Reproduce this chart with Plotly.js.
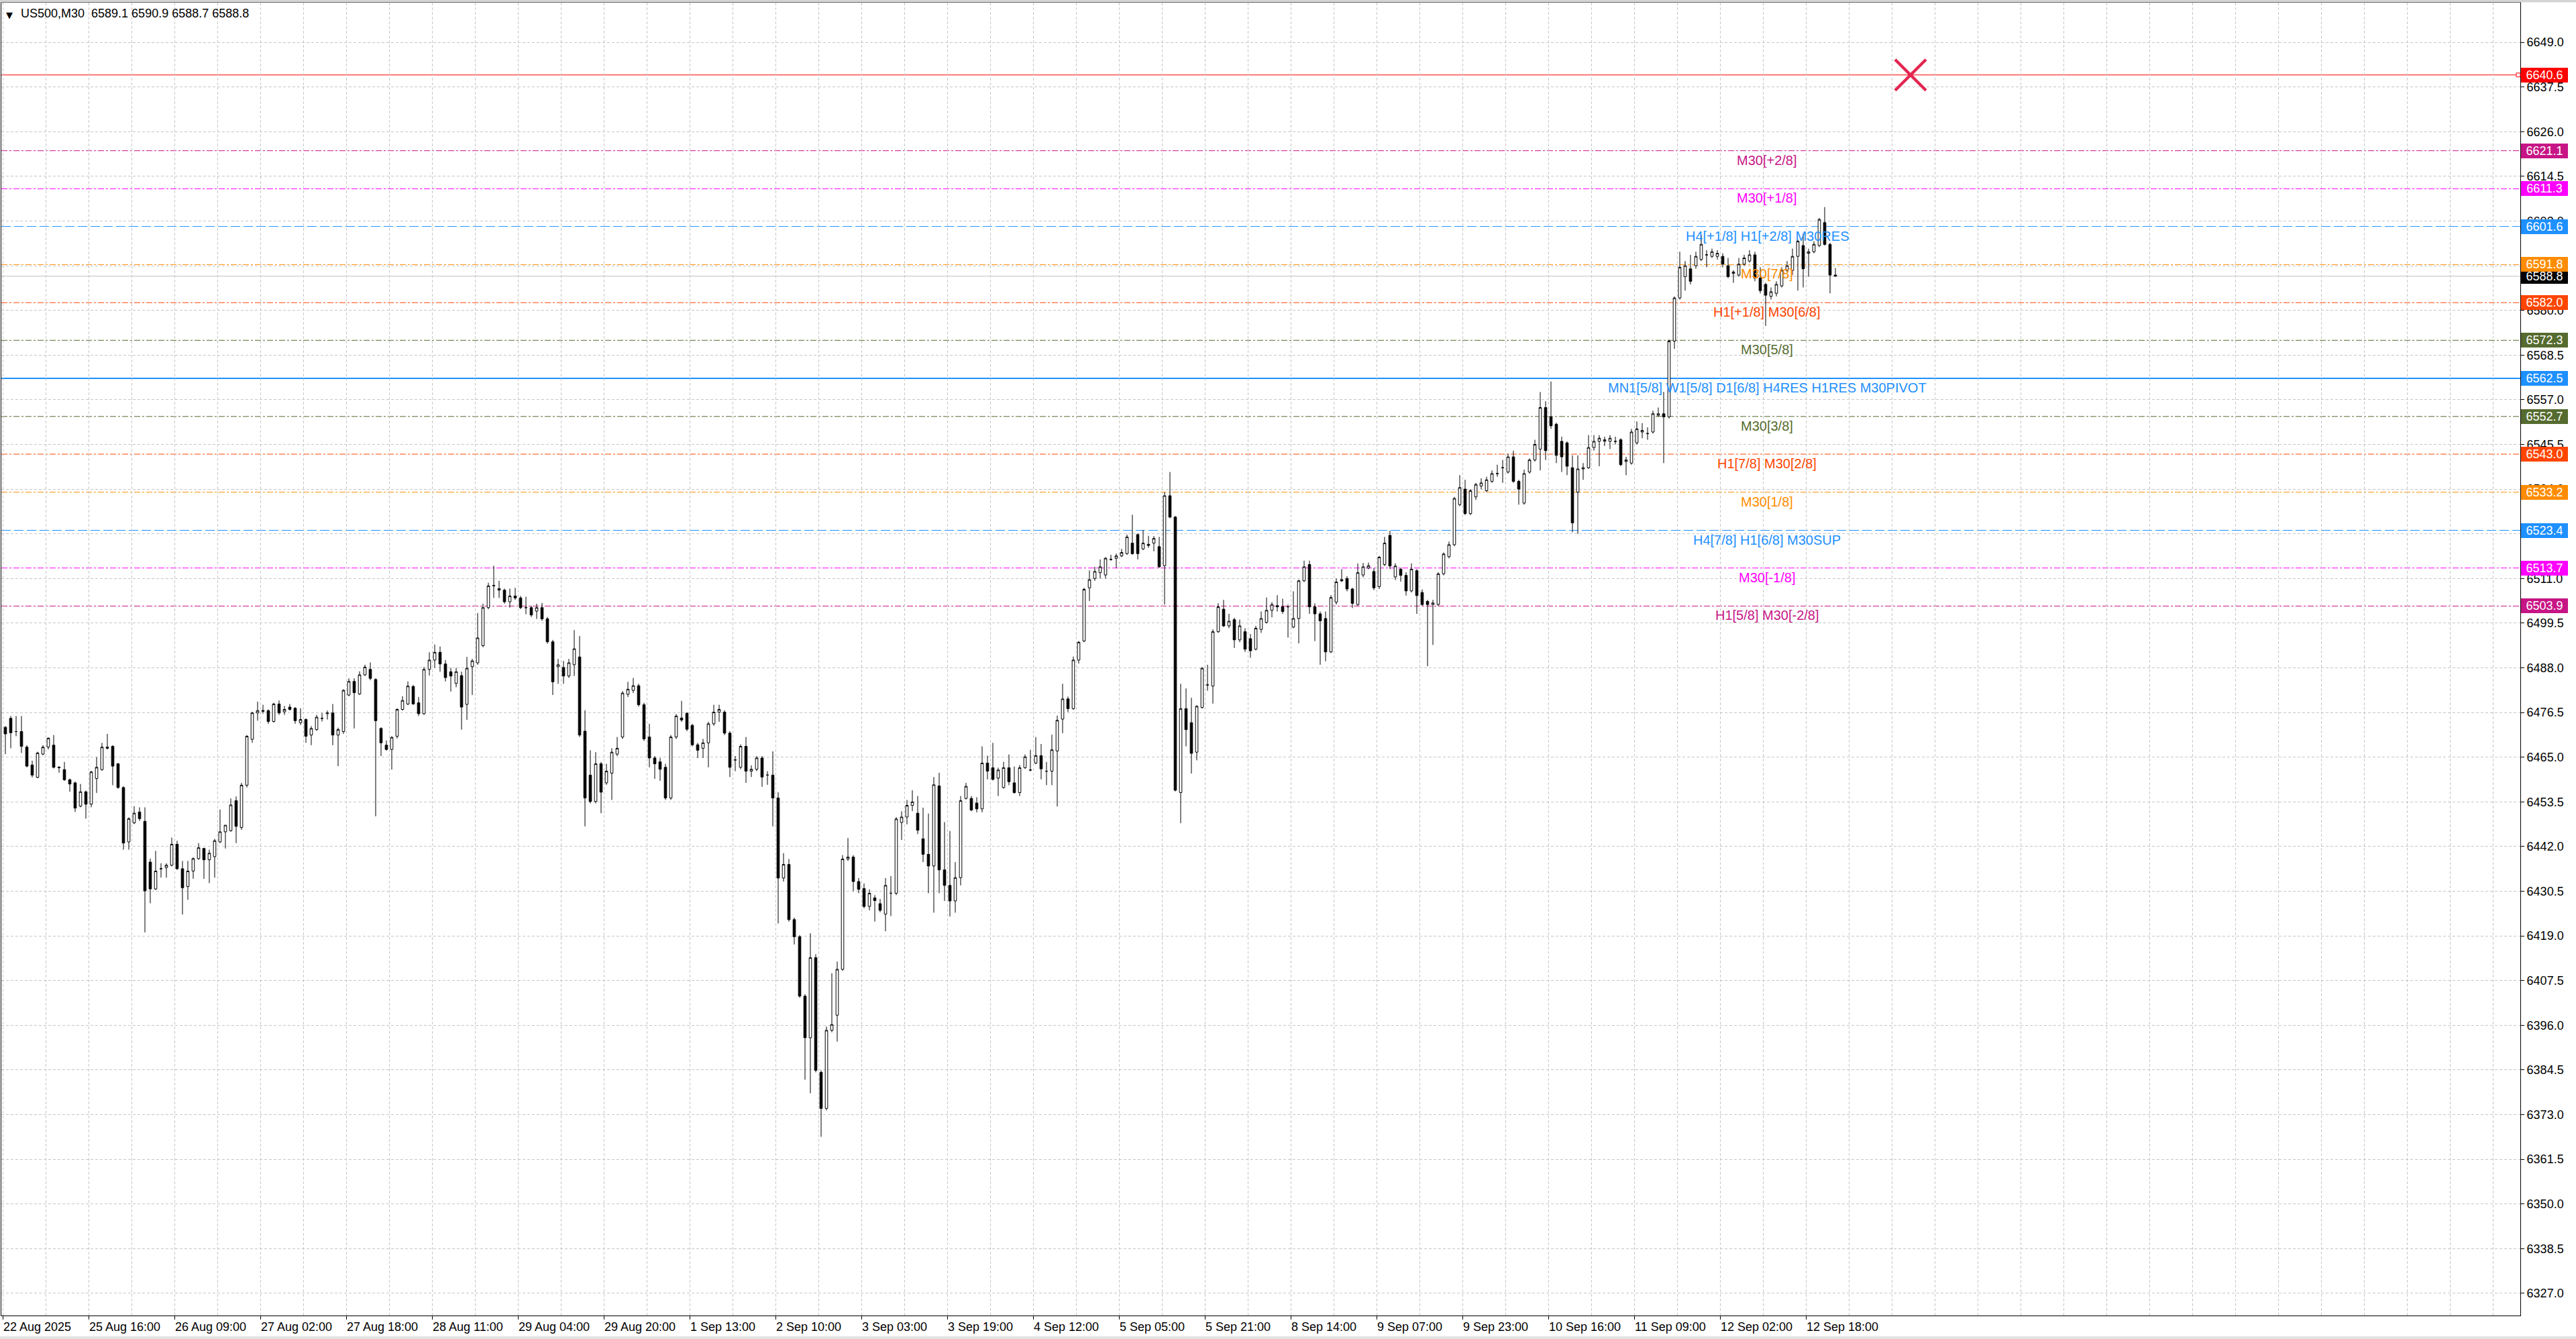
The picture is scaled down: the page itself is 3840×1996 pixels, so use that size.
<!DOCTYPE html>
<html><head><meta charset="utf-8">
<script src="https://cdn.plot.ly/plotly-3.0.1.min.js"></script>
<style>html,body{margin:0;padding:0;background:#fff;}#chart{width:3840px;height:1996px;}</style>
</head><body><div id="chart"></div>
<script>
// ---------- DATA ----------
const SYMBOL = "US500,M30";
const LAST_BAR = [6589.1, 6590.9, 6588.7, 6588.8];

const OPEN = [
6472.7,6475.0,6471.6,6471.6,6467.6,6463.0,6459.8,6465.8,6467.6,6468.1,
6462.4,6461.8,6459.2,6458.4,6452.4,6456.1,6452.9,6459.5,6461.8,6467.3,
6467.8,6463.3,6457.2,6443.2,6448.1,6450.9,6448.5,6438.0,6431.1,6436.3,
6436.6,6437.2,6442.6,6436.3,6431.7,6435.7,6438.9,6441.5,6438.6,6439.4,
6443.2,6445.8,6446.1,6453.8,6446.9,6457.8,6469.6,6476.4,6476.8,6477.0,
6474.2,6478.7,6476.7,6477.9,6477.6,6473.9,6474.7,6470.7,6472.1,6475.0,
6476.2,6476.4,6470.7,6471.6,6481.0,6484.5,6481.3,6486.2,6487.6,6485.0,
6472.4,6468.1,6467.0,6470.4,6477.3,6478.7,6483.2,6479.0,6476.2,6487.6,
6490.0,6492.0,6489.0,6487.0,6484.0,6486.0,
6478.6,6488.3,6489.3,6493.7,6503.5,6509.1,6508.4,6508.0,6505.0,6506.5,
6506.0,6503.5,6503.5,6502.6,6503.5,6500.6,6494.7,6488.3,6488.1,6485.9,
6488.8,6490.8,6471.7,6460.4,6453.6,6463.3,6458.4,6460.9,6465.8,6470.2,
6481.2,6482.2,6483.4,6478.5,6470.2,6464.8,6463.8,6462.4,6454.5,6470.2,
6475.1,6476.3,6473.2,6468.2,6467.3,6468.7,6473.6,6476.6,6476.6,6471.2,
6464.3,6462.4,6467.8,6461.4,6461.9,6464.8,6460.4,6460.4,6454.5,6433.9,
6437.4,6423.2,6418.8,6403.5,6392.8,6413.4,6383.9,6374.6,6394.7,6398.6,
6410.4,6438.8,6439.3,6433.0,6431.2,6426.6,6428.8,6427.3,6424.6,6430.0,
6430.0,6448.2,6449.6,6452.6,6450.6,
6444.0,6440.0,6437.0,6457.6,6436.0,6432.0,6428.0,6434.0,6454.4,6454.4,
6453.2,6451.7,6463.5,6462.3,6459.6,6457.2,6462.3,6458.4,6455.9,6462.3,
6461.7,6463.5,6465.4,6461.4,6461.4,6466.6,6474.8,6480.0,6477.5,6490.0,
6494.9,6508.6,6511.0,6512.5,6511.9,6515.9,6516.2,6516.8,6517.4,6520.1,
6522.3,6518.6,6519.8,6520.1,6519.2,6514.3,6532.3,6526.8,6455.9,6477.5,
6473.9,6466.3,6477.8,6483.6,6483.3,6497.3,6503.1,6498.8,6500.4,6495.2,
6497.3,6495.5,6492.8,6497.9,6499.7,6502.8,6504.0,6503.7,6503.7,6498.5,
6500.7,6510.4,6514.6,6503.7,6501.9,6500.7,6492.1,6504.9,6510.7,6511.0,
6508.3,6504.3,6511.9,6513.7,6512.8,6508.9,
6514.6,6522.1,6511.4,6513.4,6511.8,6507.8,6513.0,6507.4,6505.1,6504.3,
6504.3,6512.2,6516.6,6519.7,6530.0,6534.0,6527.7,6532.0,6534.8,6533.6,
6536.0,6538.0,6539.5,6538.4,6542.3,6536.0,6530.4,6538.4,6541.5,6544.3,
6555.0,6552.6,6550.7,6546.3,6545.9,6539.5,6533.2,6539.2,6539.5,6544.7,
6546.3,6546.3,6546.3,6546.3,6546.7,6541.1,6540.7,6545.9,6548.7,6548.3,
6548.7,6553.0,6553.4,6552.6,6572.1,6583.2,6588.7,6590.7,6591.5,6593.1,
6594.3,6593.9,6593.9,6593.9,6591.5,6589.5,6589.1,6591.9,6592.7,6594.3,
6588.3,6586.7,6583.6,6584.4,6586.3,6590.3,6590.3,6593.9,6596.7,6594.7,
6595.1,6596.7,6602.6,6597.0,6589.1
];
const HIGH = [
6473.0,6475.6,6475.6,6475.6,6468.1,6464.1,6466.4,6468.1,6470.1,6470.7,
6462.7,6463.8,6459.5,6458.7,6458.1,6456.4,6461.5,6465.0,6468.7,6471.0,
6468.1,6463.5,6457.5,6449.5,6452.4,6452.1,6452.1,6438.9,6440.9,6437.7,
6437.7,6444.3,6443.5,6438.3,6438.3,6439.2,6442.9,6441.7,6441.2,6444.0,
6451.5,6447.5,6454.4,6454.9,6458.4,6470.7,6476.7,6479.3,6478.5,6477.3,
6479.0,6479.6,6478.2,6478.7,6477.9,6477.6,6475.0,6473.0,6475.9,6476.4,
6477.0,6478.7,6472.6,6482.5,6485.3,6485.3,6487.1,6488.8,6489.4,6485.3,
6472.7,6469.3,6470.4,6477.6,6480.7,6484.5,6483.6,6480.5,6488.2,6492.0,
6494.0,6493.5,6490.0,6488.0,6488.0,6487.0,
6490.8,6490.3,6502.1,6504.5,6509.9,6514.3,6510.4,6508.4,6508.4,6508.6,
6506.5,6506.3,6504.0,6504.5,6504.7,6501.1,6495.2,6490.3,6489.8,6490.3,
6497.7,6496.2,6477.1,6466.8,6466.3,6463.8,6463.3,6467.3,6470.2,6482.0,
6484.4,6485.4,6483.9,6479.0,6473.6,6465.3,6464.8,6463.3,6470.7,6476.1,
6479.5,6476.6,6473.6,6468.7,6469.7,6474.1,6478.5,6478.5,6477.1,6471.7,
6465.3,6468.3,6470.2,6462.9,6465.3,6465.3,6461.4,6466.5,6456.0,6440.3,
6438.8,6423.7,6419.2,6404.0,6419.7,6414.3,6384.4,6395.7,6409.4,6412.4,
6439.8,6444.2,6439.8,6433.9,6432.5,6431.0,6429.5,6428.5,6433.9,6434.4,
6449.6,6451.1,6454.0,6456.5,6455.0,
6452.0,6450.5,6459.9,6461.0,6448.3,6446.0,6438.0,6455.0,6458.4,6455.0,
6454.7,6467.8,6465.4,6468.7,6462.3,6463.8,6465.7,6462.6,6463.0,6465.7,
6466.9,6470.2,6468.4,6463.8,6470.8,6475.7,6483.9,6480.6,6490.9,6494.9,
6508.6,6513.1,6514.0,6515.9,6516.5,6517.1,6517.4,6518.6,6522.3,6527.4,
6522.6,6523.5,6522.0,6521.9,6521.7,6533.2,6538.4,6527.1,6483.9,6482.7,
6480.3,6478.4,6488.2,6488.8,6497.9,6504.6,6505.5,6501.9,6500.9,6500.4,
6498.2,6496.7,6498.8,6502.5,6506.1,6504.9,6506.7,6505.8,6504.3,6507.7,
6510.7,6515.6,6515.6,6504.6,6502.5,6502.5,6506.7,6511.0,6513.4,6511.6,
6508.6,6514.9,6515.0,6515.1,6513.7,6516.8,
6521.7,6523.3,6514.9,6513.8,6512.6,6514.9,6513.4,6508.2,6505.5,6505.5,
6512.6,6517.7,6520.5,6532.0,6537.6,6536.4,6534.0,6535.6,6536.8,6537.2,
6538.8,6540.3,6541.5,6543.1,6543.9,6536.4,6539.0,6541.9,6546.7,6559.0,
6556.6,6561.7,6551.1,6547.5,6546.3,6542.7,6542.7,6540.7,6547.9,6547.9,
6547.9,6547.5,6547.9,6547.5,6547.1,6542.3,6549.5,6551.4,6551.0,6549.9,
6554.2,6555.0,6559.0,6572.5,6583.6,6595.1,6592.7,6594.3,6595.1,6599.4,
6595.5,6595.9,6595.5,6594.7,6593.5,6590.3,6593.5,6594.3,6595.5,6595.1,
6591.1,6587.1,6585.9,6587.5,6591.1,6592.7,6595.9,6598.2,6599.8,6595.9,
6597.8,6603.8,6606.6,6597.4,6590.9
];
const LOW = [
6465.8,6467.3,6470.4,6466.1,6462.4,6459.8,6459.6,6465.5,6467.0,6462.1,
6461.0,6458.9,6456.1,6450.9,6452.1,6449.2,6452.1,6455.8,6461.5,6467.0,
6457.8,6456.9,6441.2,6441.2,6447.8,6448.6,6419.9,6427.4,6430.8,6434.0,
6434.0,6436.9,6436.0,6424.5,6428.3,6433.7,6438.6,6433.7,6432.6,6434.0,
6442.9,6441.5,6445.8,6442.9,6446.3,6457.2,6468.7,6474.4,6476.2,6473.6,
6473.9,6475.9,6475.9,6477.0,6473.6,6473.3,6468.7,6468.1,6471.8,6474.2,
6474.7,6468.1,6462.7,6471.0,6480.7,6472.4,6481.0,6485.9,6484.8,6449.8,
6465.3,6466.7,6461.8,6469.8,6477.0,6478.4,6478.5,6475.6,6475.9,6486.0,
6488.0,6487.0,6484.5,6481.9,6483.0,6472.1,
6474.6,6481.0,6488.8,6493.3,6503.1,6506.0,6506.0,6504.5,6503.5,6505.5,
6503.1,6501.8,6501.1,6500.6,6500.1,6494.2,6481.0,6483.9,6483.9,6485.4,
6485.9,6470.2,6447.2,6453.1,6453.1,6450.6,6457.9,6454.0,6465.3,6469.7,
6480.5,6481.5,6478.0,6469.2,6462.4,6459.4,6458.9,6454.0,6454.0,6469.7,
6474.1,6471.7,6467.8,6464.8,6464.8,6462.4,6473.1,6474.1,6470.7,6459.9,
6461.4,6461.9,6458.4,6459.9,6461.4,6457.4,6457.9,6447.2,6422.2,6433.0,
6422.7,6416.8,6403.1,6382.0,6378.5,6383.9,6367.3,6374.1,6394.2,6391.8,
6410.0,6438.3,6430.5,6430.0,6426.1,6425.6,6422.7,6425.1,6420.2,6424.1,
6429.5,6443.7,6447.7,6451.1,6445.2,
6438.0,6430.0,6425.0,6430.0,6428.0,6424.0,6425.0,6432.0,6454.1,6451.1,
6450.8,6450.8,6459.3,6459.0,6455.0,6456.9,6457.8,6455.6,6455.0,6462.0,
6461.4,6463.2,6459.3,6457.8,6457.8,6452.3,6471.2,6476.6,6477.2,6489.1,
6494.6,6505.2,6510.4,6511.0,6511.0,6515.6,6513.7,6516.5,6517.1,6517.1,
6515.9,6518.3,6518.9,6518.0,6513.7,6504.3,6526.5,6456.2,6448.0,6467.8,
6460.8,6464.2,6477.5,6482.1,6478.8,6497.0,6498.5,6498.2,6493.1,6494.6,
6492.1,6490.6,6492.5,6497.0,6499.4,6501.0,6502.5,6501.9,6495.8,6498.2,
6494.3,6510.1,6501.9,6494.9,6488.8,6489.7,6491.8,6504.3,6510.1,6507.7,
6503.4,6504.0,6511.3,6513.4,6508.0,6508.3,
6514.2,6513.4,6510.6,6510.2,6506.6,6507.4,6501.9,6503.9,6488.4,6493.9,
6503.9,6511.8,6516.2,6519.3,6529.6,6527.3,6527.3,6531.2,6534.0,6533.2,
6535.6,6537.2,6535.6,6538.0,6535.6,6530.0,6530.0,6538.0,6541.1,6538.8,
6541.5,6549.5,6540.7,6538.4,6537.6,6522.9,6522.5,6536.4,6539.2,6543.9,
6539.9,6545.1,6544.3,6545.5,6539.9,6537.6,6540.3,6545.5,6547.1,6546.7,
6548.3,6552.6,6540.7,6552.2,6570.1,6582.8,6585.1,6586.7,6590.7,6592.7,
6591.1,6593.5,6593.1,6591.1,6588.3,6587.1,6588.7,6591.5,6592.3,6587.5,
6584.4,6576.0,6582.8,6583.6,6585.9,6589.9,6589.1,6585.1,6585.9,6588.7,
6594.7,6596.3,6596.7,6584.4,6588.7
];
const CLOSE = [
6471.0,6471.3,6471.6,6467.8,6462.7,6460.4,6466.1,6467.6,6469.9,6462.4,
6462.3,6459.2,6458.1,6451.9,6456.1,6452.9,6461.2,6462.4,6467.6,6467.6,
6462.7,6457.2,6442.9,6449.2,6450.6,6449.2,6430.6,6431.1,6435.7,6436.3,
6437.2,6442.6,6436.3,6431.4,6435.7,6438.9,6441.7,6438.6,6440.3,6443.5,
6445.8,6447.5,6452.7,6447.2,6457.8,6470.4,6476.4,6477.0,6477.0,6474.2,
6478.7,6476.4,6477.3,6477.3,6474.4,6474.7,6470.4,6472.4,6475.3,6475.0,
6476.4,6470.7,6472.1,6482.2,6484.5,6481.6,6486.2,6488.2,6485.3,6474.4,
6468.7,6467.0,6470.1,6477.3,6479.6,6483.3,6478.7,6476.2,6487.6,6490.0,
6492.0,6489.0,6485.5,6485.9,6487.0,6477.9,
6487.9,6489.8,6495.7,6503.5,6509.1,6509.2,6508.0,6505.0,6506.5,6506.0,
6503.5,6503.5,6501.6,6503.5,6500.6,6494.7,6484.4,6488.8,6485.9,6489.3,
6492.9,6470.7,6454.5,6453.6,6463.3,6456.0,6461.4,6466.3,6467.3,6481.5,
6482.5,6483.4,6478.5,6469.7,6464.8,6463.3,6461.9,6454.5,6470.2,6475.6,
6474.6,6472.2,6468.2,6466.8,6468.7,6473.6,6476.6,6477.3,6471.2,6462.4,
6464.3,6467.8,6461.4,6461.9,6464.8,6459.9,6460.4,6454.5,6433.9,6437.4,
6423.2,6418.8,6403.5,6392.8,6413.4,6384.4,6374.6,6394.7,6396.2,6410.4,
6438.8,6439.3,6433.0,6431.0,6426.6,6430.0,6428.1,6425.6,6432.0,6430.0,
6449.1,6449.6,6452.6,6453.5,6446.2,
6440.0,6437.0,6457.9,6436.0,6432.0,6428.0,6434.0,6453.8,6457.5,6451.4,
6451.7,6463.5,6461.4,6459.3,6461.7,6462.3,6458.7,6455.9,6462.3,6465.1,
6461.7,6465.4,6462.0,6461.4,6466.9,6474.5,6480.0,6477.5,6490.0,6494.6,
6508.2,6510.7,6512.8,6514.0,6516.2,6515.9,6516.8,6517.7,6521.7,6517.4,
6517.4,6520.1,6519.5,6521.3,6514.0,6532.3,6526.8,6456.5,6477.5,6472.1,
6466.0,6478.1,6487.9,6483.6,6497.3,6503.7,6498.8,6500.0,6495.2,6498.8,
6492.8,6492.4,6498.2,6500.7,6502.8,6504.3,6503.7,6502.5,6503.7,6500.7,
6510.4,6514.0,6503.7,6501.9,6500.1,6492.1,6506.1,6510.1,6510.4,6508.3,
6504.6,6512.5,6514.0,6514.3,6508.6,6516.5,
6520.1,6514.2,6514.2,6511.8,6507.8,6513.4,6506.6,6504.3,6504.3,6504.7,
6512.2,6517.3,6519.7,6531.6,6534.4,6527.7,6533.6,6535.2,6535.6,6536.4,
6538.0,6538.0,6539.5,6542.3,6536.0,6534.0,6538.0,6541.5,6545.5,6555.0,
6543.9,6550.3,6542.7,6542.3,6539.9,6525.3,6539.2,6539.5,6544.7,6546.3,
6547.1,6546.7,6547.1,6546.3,6540.3,6541.5,6548.7,6549.5,6549.1,6548.3,
6553.4,6553.4,6552.6,6572.1,6583.2,6591.1,6591.5,6587.5,6593.9,6597.0,
6594.3,6595.1,6594.7,6591.9,6588.7,6589.9,6591.9,6593.5,6594.3,6588.3,
6585.1,6583.9,6584.8,6586.7,6590.3,6591.5,6593.9,6597.8,6590.7,6595.1,
6597.0,6603.4,6597.0,6589.1,6588.8
];

const TICK_LABELS = ["22 Aug 2025","25 Aug 16:00","26 Aug 09:00","27 Aug 02:00","27 Aug 18:00",
  "28 Aug 11:00","29 Aug 04:00","29 Aug 20:00","1 Sep 13:00","2 Sep 10:00","3 Sep 03:00",
  "3 Sep 19:00","4 Sep 12:00","5 Sep 05:00","5 Sep 21:00","8 Sep 14:00","9 Sep 07:00",
  "9 Sep 23:00","10 Sep 16:00","11 Sep 09:00","12 Sep 02:00","12 Sep 18:00"];

const LEVEL_PRICES = [6621.1,6611.3,6601.6,6591.8,6582.0,6572.3,6562.5,6552.7,6543.0,6533.2,6523.4,6513.7,6503.9];
const LEVEL_NAMES = ["M30[+2/8]","M30[+1/8]","H4[+1/8] H1[+2/8] M30RES","M30[7/8]","H1[+1/8] M30[6/8]",
  "M30[5/8]","MN1[5/8] W1[5/8] D1[6/8] H4RES H1RES M30PIVOT","M30[3/8]","H1[7/8] M30[2/8]",
  "M30[1/8]","H4[7/8] H1[6/8] M30SUP","M30[-1/8]","H1[5/8] M30[-2/8]"];
const ORDER_PRICE = 6640.6;
const BID_PRICE = 6588.8;
const ORDER_MARK_INDEX = 355;

// ---------- STYLE ----------
const LEVEL_COLORS = ['#C71585','#FF00FF','#1E90FF','#FF8C00','#FF4500','#556B2F','#1E90FF','#556B2F','#FF4500','#FF8C00','#1E90FF','#FF00FF','#C71585'];
const DD = '9px,3px,3px,3px', DS = '14px,5px';
const LEVEL_DASH = [DD,DD,DS,DD,DD,DD,'solid',DD,DD,DD,DS,DD,DD];
const LEVEL_WIDTH = [1,1,1,1,1,1,2,1,1,1,1,1,1];
const FONT = 'Liberation Sans, Arial, sans-serif';
const W = 3840, H = 1996, ML = 2, MR = 83, MT = 4, MB = 35;
const PLOT_W = W - ML - MR, PLOT_H = H - MT - MB;
const CANDLE_PX = 8, FIRST_PX = 8;
const xRange = [(ML - FIRST_PX) / CANDLE_PX, (W - MR - FIRST_PX) / CANDLE_PX];
const yRange = [6321.3, 6659.2];
const GRID = '#C6C6C6';

const idx = OPEN.map((_, i) => i);
const tickvals = TICK_LABELS.map((_, k) => -0.5 + 16 * k);

const traces = [
  {
    type: 'candlestick', x: idx, open: OPEN, high: HIGH, low: LOW, close: CLOSE,
    increasing: {line: {color: '#000', width: 1}, fillcolor: '#FFFFFF'},
    decreasing: {line: {color: '#000', width: 1}, fillcolor: '#000000'},
    whiskerwidth: 0, showlegend: false, hoverinfo: 'skip'
  },
  {
    type: 'scatter', mode: 'markers', x: [ORDER_MARK_INDEX], y: [ORDER_PRICE],
    marker: {symbol: 'x-thin', size: 46, line: {width: 4.5, color: '#E3264F'}},
    showlegend: false, hoverinfo: 'skip'
  }
];

const shapes = [];
LEVEL_PRICES.forEach((p, i) => {
  shapes.push({type: 'line', xref: 'paper', x0: 0, x1: 1, yref: 'y', y0: p, y1: p, layer: 'below',
    line: {color: LEVEL_COLORS[i], width: LEVEL_WIDTH[i], dash: LEVEL_DASH[i]}});
});
shapes.push({type: 'line', xref: 'paper', x0: 0, x1: 1, yref: 'y', y0: BID_PRICE, y1: BID_PRICE, layer: 'below',
  line: {color: '#C0C0C0', width: 1}});
shapes.push({type: 'line', xref: 'paper', x0: 0, x1: 1, yref: 'y', y0: ORDER_PRICE, y1: ORDER_PRICE, layer: 'below',
  line: {color: '#FF0000', width: 1}});
shapes.push({type: 'rect', xref: 'paper', x0: 1 - 6 / PLOT_W, x1: 1, yref: 'y', y0: ORDER_PRICE - 0.5, y1: ORDER_PRICE + 0.5,
  line: {color: '#FF0000', width: 1}, fillcolor: '#FFFFFF'});
// window chrome strips
shapes.push({type: 'rect', xref: 'paper', x0: -0.01, x1: 1.03, yref: 'paper', y0: 1 + 0.6 / PLOT_H, y1: 1 + 4 / PLOT_H,
  line: {width: 0}, fillcolor: '#D4D4D4'});
shapes.push({type: 'rect', xref: 'paper', x0: -0.01, x1: 1.03, yref: 'paper', y0: -(1992 - (H - MB)) / PLOT_H, y1: -(1997 - (H - MB)) / PLOT_H,
  line: {width: 0}, fillcolor: '#E2E2E2'});

const annotations = [];
// level names under each line
LEVEL_PRICES.forEach((p, i) => {
  annotations.push({xref: 'paper', x: (2634 - ML) / PLOT_W, yref: 'y', y: p, xanchor: 'center', yanchor: 'top', yshift: -1,
    text: LEVEL_NAMES[i], showarrow: false, font: {family: FONT, size: 20, color: LEVEL_COLORS[i]}});
});
// price tags on the right
function tag(price, color) {
  annotations.push({xref: 'paper', x: 1, xanchor: 'left', xshift: 1, yref: 'y', y: price, yanchor: 'middle',
    text: price.toFixed(1), showarrow: false, bgcolor: color, borderpad: 1, borderwidth: 0,
    width: 68, height: 20, align: 'center', font: {family: FONT, size: 18, color: '#FFFFFF'}});
}
tag(BID_PRICE, '#000000');
tag(ORDER_PRICE, '#FF0000');
LEVEL_PRICES.forEach((p, i) => tag(p, LEVEL_COLORS[i]));
// header
annotations.push({xref: 'paper', yref: 'paper', x: 0, y: 1, xanchor: 'left', yanchor: 'top', xshift: 5, yshift: -9,
  text: '▼', showarrow: false, font: {family: 'DejaVu Sans', size: 13, color: '#000'}});
annotations.push({xref: 'paper', yref: 'paper', x: 0, y: 1, xanchor: 'left', yanchor: 'top', xshift: 27, yshift: -4,
  text: SYMBOL + '\u00a0\u00a0' + LAST_BAR.map(v => v.toFixed(1)).join(' '), showarrow: false,
  font: {family: FONT, size: 18, color: '#000'}});

const layout = {
  width: W, height: H, margin: {l: ML, r: MR, t: MT, b: MB, pad: 0},
  paper_bgcolor: '#FFFFFF', plot_bgcolor: '#FFFFFF', showlegend: false, hovermode: false,
  boxgap: 0.35,
  xaxis: {
    range: xRange, rangeslider: {visible: false}, tickmode: 'array', tickvals: tickvals, ticktext: TICK_LABELS,
    ticklabelposition: 'outside right', ticks: 'outside', ticklen: 5, tickcolor: '#000',
    tickfont: {family: FONT, size: 18, color: '#000'},
    showgrid: true, gridcolor: GRID, griddash: '4px,3px', gridwidth: 1,
    minor: {tickmode: 'linear', tick0: -0.5, dtick: 8, showgrid: true, gridcolor: GRID, griddash: '4px,3px', ticks: ''},
    showline: true, linecolor: '#000', linewidth: 1, mirror: true, zeroline: false, fixedrange: true
  },
  yaxis: {
    side: 'right', range: yRange, tickmode: 'linear', tick0: 6327, dtick: 11.5, tickformat: '.1f',
    ticks: 'outside', ticklen: 5, tickcolor: '#000', tickfont: {family: FONT, size: 18, color: '#000'},
    showgrid: true, gridcolor: GRID, griddash: '4px,3px', gridwidth: 1,
    showline: true, linecolor: '#000', linewidth: 1, mirror: true, zeroline: false, fixedrange: true
  },
  shapes: shapes, annotations: annotations
};

Plotly.newPlot('chart', traces, layout, {staticPlot: true, displayModeBar: false});
</script>
</body></html>
